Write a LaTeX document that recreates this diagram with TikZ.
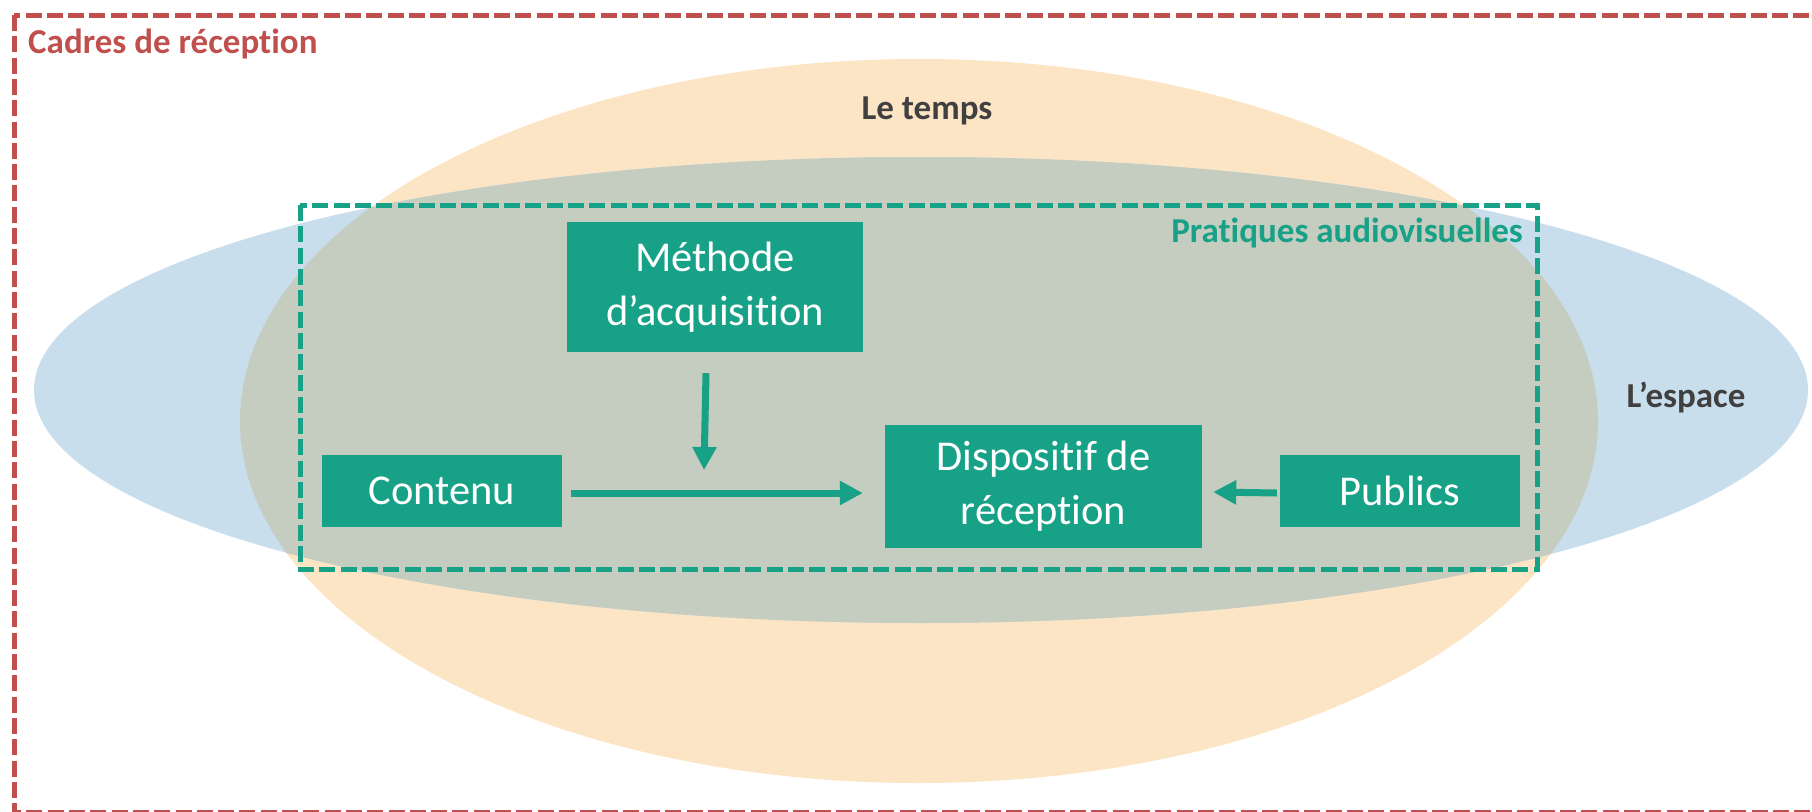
\documentclass[tikz,border=0pt]{standalone}
\usepackage{fontspec}
\setmainfont{Carlito}[Ligatures={NoCommon}]
\usetikzlibrary{arrows.meta}
\definecolor{orangefill}{RGB}{252,229,196}
\definecolor{bluefill}{RGB}{201,222,236}
\definecolor{overlapfill}{RGB}{197,204,192}
\definecolor{teal}{RGB}{23,161,134}
\definecolor{redframe}{RGB}{192,80,77}
\definecolor{darktext}{RGB}{64,64,64}
\tikzset{
  box/.style={rectangle, fill=teal, text=white, align=center, inner sep=0pt,
    font=\fontsize{42.5}{54}\selectfont},
  flow/.style={draw=teal, line width=7pt, -{Triangle[length=23pt,width=23pt]}},
  framelabel/.style={font=\fontsize{35}{40}\selectfont\bfseries, inner sep=0pt},
}
\begin{document}
\begin{tikzpicture}[x=1pt,y=-1pt]
\useasboundingbox (0,0) rectangle (1812,811);
\clip (0,0) rectangle (1812,811);
% ellipses
\fill[orangefill] (919,421) ellipse [x radius=679, y radius=362];
\fill[bluefill] (921,390) ellipse [x radius=887, y radius=233];
\begin{scope}
  \clip (919,421) ellipse [x radius=679, y radius=362];
  \fill[overlapfill] (921,390) ellipse [x radius=887, y radius=233];
\end{scope}
% outer frame
\draw[redframe, line width=5pt, dash pattern=on 16pt off 5.3pt] (14,15) rectangle (1840,812);
\node[framelabel, text=redframe, anchor=base west] (cadres) at (28,53) {Cadres de réception};
% labels of ellipses
\node[framelabel, text=darktext, anchor=base] (temps) at (927,119) {Le temps};
\node[framelabel, text=darktext, anchor=base] (espace) at (1686,407) {L’espace};
% inner frame
\draw[teal, line width=5pt, dash pattern=on 16pt off 5.3pt] (300,205) rectangle (1537,569);
\node[framelabel, text=teal, anchor=base east] (prat) at (1523,242) {Pratiques audiovisuelles};
% boxes
\node[box, minimum width=240pt, minimum height=72pt] (contenu) at (442,491) {Contenu};
\node[box, minimum width=240pt, minimum height=72pt] (publics) at (1400,491) {Publics};
\node[box, minimum width=296pt, minimum height=130pt] (methode) at (715,287) {Méthode\\d’acquisition};
\node[box, minimum width=317pt, minimum height=123pt] (dispo) at (1043.5,486.5) {Dispositif de\\réception};
% connectors
\coordinate (mtip) at (704,470);
\draw[flow] ([shift={(9,2)}]contenu.east) -- ([shift={(-22,6.5)}]dispo.west);
\draw[flow] ([shift={(-9,21)}]methode.south) -- (mtip);
\draw[flow] ([shift={(-3,2)}]publics.west) -- ([shift={(11,5.5)}]dispo.east);
\end{tikzpicture}
\end{document}
